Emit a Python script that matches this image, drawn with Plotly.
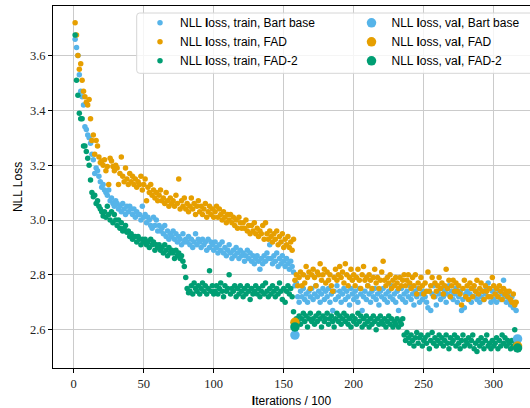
import plotly.graph_objects as go

# ---------------- data ----------------
train_bart = [
    3.66, 3.63, 3.60, 3.53, 3.47, 3.45, 3.42, 3.34, 3.33, 3.31,
    3.30, 3.28, 3.24, 3.22, 3.17, 3.19, 3.18, 3.16, 3.14, 3.12,
    3.13, 3.11, 3.10, 3.09, 3.11, 3.07, 3.08, 3.06, 3.05, 3.07,
    3.06, 3.04, 3.05, 3.03, 3.06, 3.04, 3.02, 3.05, 3.03, 3.05,
    3.04, 3.02, 3.04, 3.01, 3.03, 3.02, 3.02, 3.00, 3.05, 3.01,
    3.02, 2.99, 3.01, 3.00, 2.98, 2.97, 3.01, 2.98, 3.00, 2.96,
    2.98, 2.96, 2.97, 2.95, 2.98, 2.94, 2.96, 2.93, 2.95, 2.94,
    2.96, 2.93, 2.95, 2.92, 2.94, 2.93, 2.91, 2.95, 2.92, 2.93,
    2.92, 2.94, 2.91, 2.93, 2.90, 2.92, 2.95, 2.91, 2.93, 2.92,
    2.90, 2.93, 2.91, 2.92, 2.89, 2.93, 2.90, 2.92, 2.91, 2.89,
    2.92, 2.90, 2.88, 2.91, 2.89, 2.92, 2.88, 2.90, 2.87, 2.89,
    2.91, 2.88, 2.86, 2.89, 2.87, 2.90, 2.88, 2.86, 2.89, 2.87,
    2.88, 2.85, 2.87, 2.89, 2.86, 2.88, 2.85, 2.87, 2.84, 2.86,
    2.87, 2.85, 2.82, 2.86, 2.84, 2.87, 2.85, 2.88, 2.86, 2.91,
    2.86, 2.84, 2.87, 2.85, 2.88, 2.83, 2.86, 2.84, 2.87, 2.85,
    2.83, 2.86, 2.84, 2.82, 2.85, 2.83, 2.81,
    2.76, 2.77, 2.72,
    2.70, 2.74, 2.72, 2.75, 2.71, 2.73, 2.70, 2.74, 2.72, 2.75,
    2.71, 2.73, 2.76, 2.72, 2.74, 2.70, 2.73, 2.75, 2.71, 2.74,
    2.72, 2.75, 2.70, 2.73, 2.67, 2.74, 2.71, 2.76, 2.72, 2.74,
    2.70, 2.73, 2.75, 2.71, 2.74, 2.72, 2.69, 2.75, 2.73, 2.71,
    2.74, 2.72, 2.70, 2.75, 2.73, 2.67, 2.72, 2.74, 2.71, 2.76,
    2.73, 2.70, 2.74, 2.72, 2.75, 2.71, 2.73, 2.69, 2.74, 2.72,
    2.75, 2.71, 2.73, 2.70, 2.74, 2.72, 2.76, 2.71, 2.73, 2.70,
    2.74, 2.67, 2.72, 2.75, 2.71, 2.73, 2.70, 2.74, 2.72, 2.76,
    2.71, 2.73, 2.69, 2.74, 2.72, 2.75, 2.70, 2.73, 2.71, 2.74,
    2.72, 2.70, 2.68, 2.74, 2.67, 2.73, 2.76, 2.72, 2.69, 2.74,
    2.73, 2.71, 2.75, 2.72, 2.74, 2.70, 2.73, 2.76, 2.72, 2.74,
    2.71, 2.73, 2.75, 2.70, 2.72, 2.74, 2.67, 2.71, 2.68, 2.73,
    2.74, 2.71, 2.73, 2.70, 2.75, 2.72, 2.74, 2.71, 2.73, 2.70,
    2.72, 2.74, 2.71, 2.73, 2.75, 2.77, 2.72, 2.70, 2.74, 2.71,
    2.73, 2.70, 2.72, 2.74, 2.71, 2.73, 2.78, 2.72, 2.70, 2.73,
    2.71, 2.69, 2.72, 2.68, 2.70, 2.67,
]

train_fad = [
    3.72, 3.675, 3.60, 3.55, 3.57, 3.51, 3.47, 3.45, 3.43, 3.42,
    3.44, 3.37, 3.29, 3.31, 3.24, 3.29, 3.27, 3.23, 3.21, 3.215,
    3.20, 3.22, 3.18, 3.195, 3.13, 3.225, 3.215, 3.195, 3.18, 3.20,
    3.19, 3.13, 3.17, 3.23, 3.16, 3.14, 3.19, 3.15, 3.13, 3.17,
    3.14, 3.16, 3.13, 3.15, 3.12, 3.14, 3.13, 3.16, 3.11, 3.13,
    3.15, 3.07, 3.12, 3.10, 3.13, 3.09, 3.11, 3.08, 3.10, 3.07,
    3.09, 3.11, 3.07, 3.08, 3.06, 3.10, 3.07, 3.05, 3.08, 3.06,
    3.07, 3.05, 3.09, 3.06, 3.15, 3.04, 3.07, 3.05, 3.08, 3.04,
    3.06, 3.03, 3.05, 3.08, 3.04, 3.06, 3.02, 3.05, 3.07, 3.03,
    3.05, 3.02, 3.04, 3.06, 3.01, 3.03, 3.05, 3.02, 3.04, 3.01,
    3.03, 3.05, 3.01, 3.04, 3.02, 3.00, 3.03, 3.01, 2.99, 3.02,
    3.00, 3.02, 2.99, 3.01, 2.98, 3.00, 2.97, 3.01, 2.99, 2.97,
    2.99, 2.97, 3.00, 2.96, 2.98, 2.95, 2.98, 2.96, 2.99, 2.95,
    2.97, 2.94, 2.96, 2.95, 2.98, 2.93, 2.99, 2.95, 2.93, 2.96,
    2.94, 2.92, 2.95, 2.93, 2.96, 2.91, 2.94, 2.92, 2.95, 2.90,
    2.93, 2.91, 2.94, 2.90, 2.92, 2.89, 2.93,
    2.78, 2.80, 2.76,
    2.79, 2.81, 2.76, 2.80, 2.77, 2.83, 2.79, 2.81, 2.75, 2.80,
    2.82, 2.79, 2.76, 2.81, 2.80, 2.84, 2.78, 2.80, 2.82, 2.77,
    2.81, 2.78, 2.80, 2.76, 2.74, 2.79, 2.82, 2.78, 2.80, 2.83,
    2.79, 2.81, 2.77, 2.84, 2.80, 2.76, 2.79, 2.82, 2.78, 2.80,
    2.76, 2.79, 2.82, 2.78, 2.75, 2.80, 2.83, 2.78, 2.79, 2.76,
    2.80, 2.78, 2.75, 2.79, 2.82, 2.77, 2.79, 2.75, 2.78, 2.81,
    2.85, 2.78, 2.76, 2.79, 2.77, 2.80, 2.75, 2.78, 2.76, 2.79,
    2.77, 2.75, 2.79, 2.76, 2.78, 2.80, 2.76, 2.78, 2.80, 2.77,
    2.75, 2.79, 2.76, 2.80, 2.73, 2.77, 2.75, 2.79, 2.76, 2.73,
    2.77, 2.74, 2.81, 2.74, 2.76, 2.79, 2.72, 2.77, 2.74, 2.76,
    2.79, 2.75, 2.77, 2.73, 2.76, 2.82, 2.75, 2.78, 2.72, 2.76,
    2.78, 2.74, 2.77, 2.74, 2.76, 2.73, 2.69, 2.75, 2.78, 2.72,
    2.76, 2.71, 2.77, 2.75, 2.72, 2.76, 2.74, 2.78, 2.73, 2.75,
    2.77, 2.74, 2.71, 2.76, 2.74, 2.72, 2.75, 2.72, 2.79, 2.76,
    2.73, 2.75, 2.72, 2.76, 2.74, 2.71, 2.75, 2.73, 2.74, 2.72,
    2.74, 2.71, 2.70, 2.73, 2.69, 2.70,
]

train_fad2 = [
    3.675, 3.51, 3.455, 3.39, 3.37, 3.37, 3.27, 3.27, 3.25, 3.225,
    3.20, 3.146, 3.10, 3.085, 3.09, 3.06, 3.07, 3.05, 3.04, 3.03,
    3.015, 3.03, 3.01, 3.05, 3.02, 3.00, 3.03, 2.99, 3.02, 3.00,
    2.98, 3.00, 2.97, 2.99, 2.96, 2.97, 2.98, 2.955, 2.96, 2.94,
    2.95, 2.93, 2.94, 2.94, 2.92, 2.94, 2.93, 2.91, 2.93, 2.92,
    2.93, 2.91, 2.92, 2.90, 2.93, 2.91, 2.92, 2.89, 2.91, 2.90,
    2.91, 2.89, 2.90, 2.88, 2.91, 2.89, 2.87, 2.90, 2.88, 2.89,
    2.88, 2.86, 2.89, 2.87, 2.88, 2.86, 2.87, 2.85, 2.83, 2.79,
    2.75, 2.735, 2.74, 2.76, 2.73, 2.77, 2.75, 2.74, 2.76, 2.73,
    2.75, 2.77, 2.74, 2.76, 2.73, 2.75, 2.815, 2.74, 2.76, 2.73,
    2.74, 2.76, 2.73, 2.75, 2.77, 2.74, 2.72, 2.76, 2.74, 2.75,
    2.80, 2.73, 2.75, 2.74, 2.76, 2.72, 2.75, 2.73, 2.76, 2.74,
    2.72, 2.75, 2.73, 2.76, 2.74, 2.71, 2.75, 2.73, 2.74, 2.76,
    2.73, 2.75, 2.72, 2.74, 2.76, 2.73, 2.77, 2.74, 2.72, 2.75,
    2.73, 2.76, 2.74, 2.72, 2.75, 2.73, 2.77, 2.74, 2.71, 2.75,
    2.70, 2.74, 2.76, 2.73, 2.75, 2.72, 2.665,
    2.62, 2.64, 2.63,
    2.65, 2.62, 2.64, 2.66, 2.63, 2.65, 2.61, 2.64, 2.66, 2.63,
    2.64, 2.62, 2.65, 2.63, 2.66, 2.64, 2.61, 2.65, 2.63, 2.64,
    2.66, 2.62, 2.64, 2.65, 2.63, 2.61, 2.64, 2.66, 2.63, 2.65,
    2.62, 2.64, 2.66, 2.63, 2.65, 2.62, 2.64, 2.61, 2.65, 2.63,
    2.64, 2.62, 2.66, 2.63, 2.65, 2.61, 2.64, 2.62, 2.65, 2.63,
    2.61, 2.64, 2.62, 2.65, 2.63, 2.60, 2.64, 2.62, 2.65, 2.63,
    2.62, 2.64, 2.61, 2.63, 2.65, 2.62, 2.64, 2.61, 2.63, 2.62,
    2.64, 2.61, 2.63, 2.62, 2.64,
    2.58, 2.56, 2.59, 2.57, 2.55,
    2.58, 2.56, 2.54, 2.57, 2.59, 2.55, 2.57, 2.58, 2.54, 2.56,
    2.57, 2.55, 2.58, 2.53, 2.56, 2.59, 2.55, 2.57, 2.54, 2.56,
    2.58, 2.55, 2.57, 2.54, 2.56, 2.58, 2.55, 2.53, 2.57, 2.55,
    2.56, 2.58, 2.54, 2.57, 2.55, 2.53, 2.56, 2.58, 2.54, 2.56,
    2.55, 2.57, 2.54, 2.56, 2.58, 2.53, 2.55, 2.52, 2.56, 2.54,
    2.57, 2.55, 2.53, 2.56, 2.58, 2.54, 2.55, 2.53, 2.56, 2.54,
    2.55, 2.57, 2.53, 2.56, 2.54, 2.58, 2.55, 2.57, 2.54, 2.56,
    2.55, 2.53, 2.56, 2.54, 2.60, 2.55,
]

val_iters = [158, 317]
val_bart = [2.58, 2.566]
val_fad = [2.627, 2.54]
val_fad2 = [2.61, 2.533]

x_ticks = [0, 50, 100, 150, 200, 250, 300]
y_ticks = [2.6, 2.8, 3.0, 3.2, 3.4, 3.6]

names_train = ["NLL <b>l</b>oss, train, Bart base", "NLL <b>l</b>oss, train, FAD",
               "NLL <b>l</b>oss, train, FAD-2"]
names_val = ["NLL <b>l</b>oss, va<b>l</b>, Bart base", "NLL <b>l</b>oss, va<b>l</b>, FAD",
             "NLL <b>l</b>oss, va<b>l</b>, FAD-2"]
colors = ["#56B4E9", "#E69F00", "#009E73"]

fig = go.Figure()
train_series = [train_bart, train_fad, train_fad2]
for i, ys in enumerate(train_series):
    xs = list(range(1, len(ys) + 1))
    fig.add_trace(go.Scatter(
        x=xs, y=ys, mode="markers", name=names_train[i], legend="legend",
        marker=dict(color=colors[i], size=5.5, line=dict(width=0)),
    ))
val_series = [val_bart, val_fad, val_fad2]
for i, ys in enumerate(val_series):
    fig.add_trace(go.Scatter(
        x=val_iters, y=ys, mode="markers", name=names_val[i], legend="legend2",
        marker=dict(color=colors[i], size=9.5, line=dict(width=0)),
    ))

serif = "Liberation Serif, DejaVu Serif, serif"
sans = "Liberation Sans, Arial, sans-serif"

W, H = 530, 408
ML, MR, MT, MB = 53, 0, 6, 40
PW, PH = W - ML - MR, H - MT - MB


def px_x(p):
    return (p - ML) / PW


def px_y(p):
    return (H - MB - p) / PH


legend_common = dict(
    orientation="v", xanchor="left", yanchor="top",
    bgcolor="rgba(0,0,0,0)", borderwidth=0,
    font=dict(family=sans, size=12, color="black"),
    traceorder="normal",
)

# legend frame (rounded rectangle, drawn above the data like matplotlib's)
bx0, bx1, by0, by1, r = px_x(136.7), px_x(545), px_y(73.3), px_y(13), 3
rx, ry = r / PW, r / PH
frame_path = (
    f"M {bx0 + rx},{by1} L {bx1 - rx},{by1} Q {bx1},{by1} {bx1},{by1 - ry} "
    f"L {bx1},{by0 + ry} Q {bx1},{by0} {bx1 - rx},{by0} "
    f"L {bx0 + rx},{by0} Q {bx0},{by0} {bx0},{by0 + ry} "
    f"L {bx0},{by1 - ry} Q {bx0},{by1} {bx0 + rx},{by1} Z"
)

fig.update_layout(
    width=W, height=H,
    margin=dict(l=ML, r=MR, t=MT, b=MB),
    paper_bgcolor="white", plot_bgcolor="white",
    showlegend=True,
    legend=dict(x=px_x(140), y=px_y(8.3), **legend_common),
    legend2=dict(x=px_x(351.5), y=px_y(8.3), **legend_common),
    shapes=[dict(type="path", xref="paper", yref="paper", path=frame_path,
                 fillcolor="rgba(255,255,255,0.8)", line=dict(color="#d6d6d6", width=1),
                 layer="above")],
    xaxis=dict(
        range=[-14.8, 325.9], tickvals=x_ticks, showgrid=True, gridcolor="#cbcbcb",
        gridwidth=1, zeroline=False, showline=True, linecolor="black", linewidth=1,
        mirror=True, ticks="outside", ticklen=4, tickcolor="black", automargin=False,
        tickfont=dict(family=serif, size=12.5, color="#222"),
        title=dict(text="<b>I</b>terations / 100", font=dict(family=sans, size=12, color="black")),
    ),
    yaxis=dict(
        range=[2.460, 3.781], tickvals=y_ticks, tickformat=".1f", showgrid=True,
        gridcolor="#cbcbcb", gridwidth=1, zeroline=False, showline=True, automargin=False,
        linecolor="black", linewidth=1, ticks="outside", ticklen=4, tickcolor="black",
        tickfont=dict(family=serif, size=12.5, color="#222"),
        title=dict(text="NLL Loss", font=dict(family=sans, size=12, color="black"),
                   standoff=4),
    ),
)

fig.write_html("out.html", config={"displayModeBar": False},
               post_script="document.body.style.margin='0px';")
